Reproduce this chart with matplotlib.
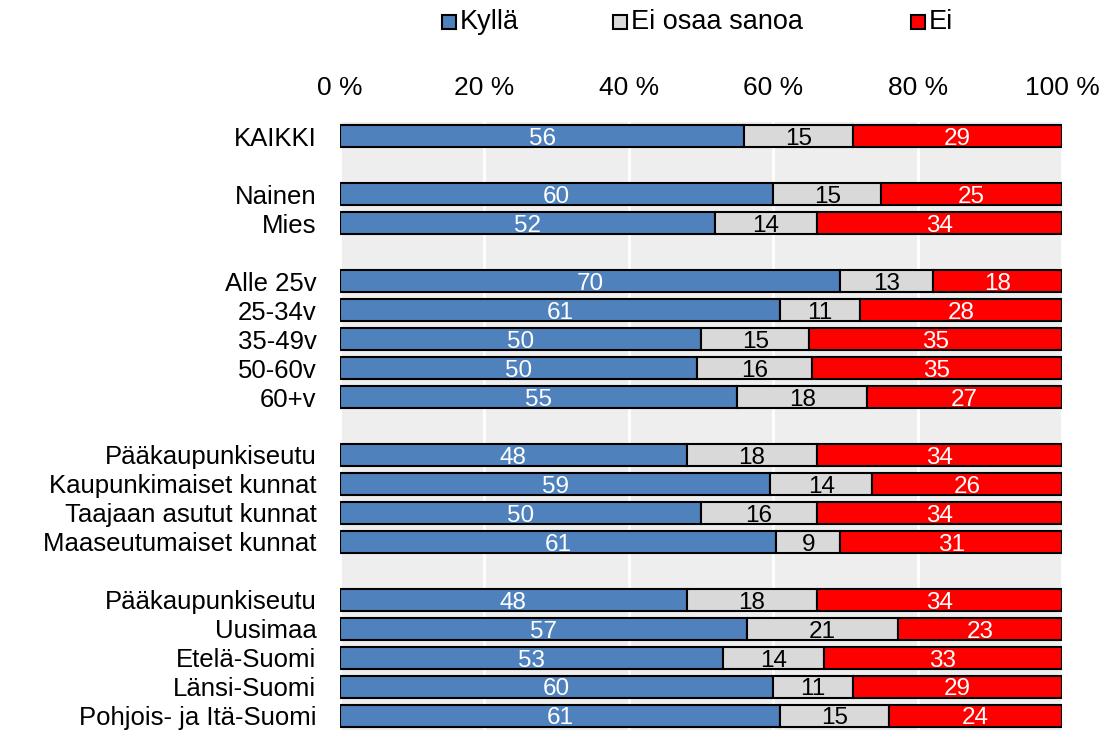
import matplotlib.pyplot as plt
import numpy as np
from matplotlib.patches import Rectangle

plt.rcParams['font.family'] = ['Liberation Sans', 'DejaVu Sans']

# Rows (None = empty spacer row between groups)
categories = ['KAIKKI', None,
              'Nainen', 'Mies', None,
              'Alle 25v', '25-34v', '35-49v', '50-60v', '60+v', None,
              'Pääkaupunkiseutu', 'Kaupunkimaiset kunnat', 'Taajaan asutut kunnat',
              'Maaseutumaiset kunnat', None,
              'Pääkaupunkiseutu', 'Uusimaa', 'Etelä-Suomi', 'Länsi-Suomi',
              'Pohjois- ja Itä-Suomi']

kylla = [56, None, 60, 52, None, 70, 61, 50, 50, 55, None,
         48, 59, 50, 61, None, 48, 57, 53, 60, 61]
eos = [15, None, 15, 14, None, 13, 11, 15, 16, 18, None,
       18, 14, 16, 9, None, 18, 21, 14, 11, 15]
ei = [29, None, 25, 34, None, 18, 28, 35, 35, 27, None,
      34, 26, 34, 31, None, 34, 23, 33, 29, 24]

series = [('Kyllä', kylla, '#4F81BD', 'white'),
          ('Ei osaa sanoa', eos, '#D9D9D9', 'black'),
          ('Ei', ei, '#FF0000', 'white')]

W, H = 1107, 730
fig = plt.figure(figsize=(W / 100, H / 100), dpi=100)
ax = fig.add_axes([340 / W, 0.0, 722 / W, 1 - 122 / H])
ax.set_facecolor('#EEEEEE')

n = len(categories)
y = np.arange(n)
rows = [i for i in range(n) if categories[i] is not None]
totals = np.array([kylla[i] + eos[i] + ei[i] for i in rows], dtype=float)

left = np.zeros(len(rows))
for name, vals, color, tcol in series:
    v = np.array([vals[i] for i in rows], dtype=float)
    share = v / totals * 100
    bars = ax.barh(y[rows], share, left=left, height=0.76, color=color,
                   edgecolor='black', linewidth=1.5, label=name, zorder=3)
    for b, val in zip(bars, v):
        ax.text(b.get_x() + b.get_width() / 2, b.get_y() + b.get_height() / 2 + 0.1,
                f'{val:.0f}', ha='center', va='center', color=tcol,
                fontsize=17.5, zorder=4)
    left += share

ax.set_xlim(0, 100)
ax.set_ylim(n - 0.5, -0.5)
ax.set_xticks([0, 20, 40, 60, 80, 100])
ax.set_xticklabels([f'{t} %' for t in [0, 20, 40, 60, 80, 100]], fontsize=19)
ax.xaxis.tick_top()
ax.tick_params(axis='x', length=0, pad=16)
ax.set_yticks(rows)
ax.set_yticklabels([categories[i] for i in rows], fontsize=18.5)
ax.tick_params(axis='y', length=0, pad=17)
ax.grid(axis='x', color='white', linewidth=2, zorder=1)
for s in ax.spines.values():
    s.set_visible(False)

# Legend, laid out like the original (uneven spacing between entries)
legend_x = [442, 613, 911]
for (name, _, color, _), lx in zip(series, legend_x):
    fig.patches.append(Rectangle((lx / W, 1 - 29 / H), 14 / W, 14 / H,
                                 transform=fig.transFigure, facecolor=color,
                                 edgecolor='black', linewidth=1.5))
    fig.text((lx + 18) / W, 1 - 22 / H, name, fontsize=19.5,
             ha='left', va='center')

fig.savefig('out.png', dpi=100)
